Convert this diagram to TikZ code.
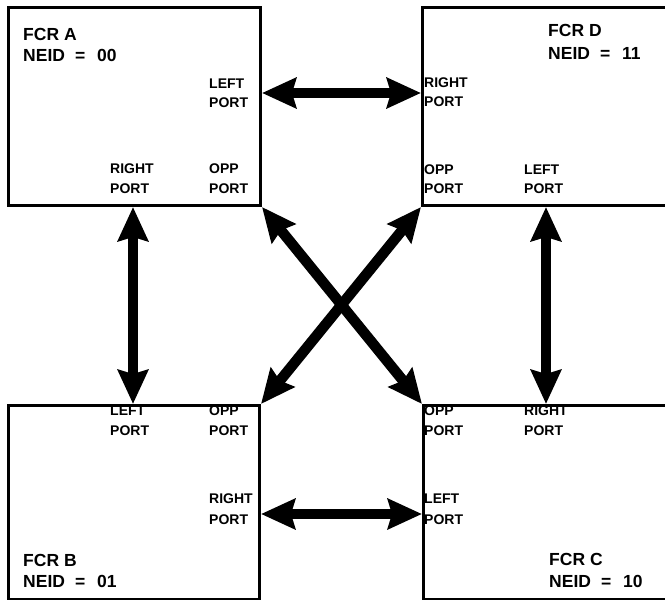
\documentclass[tikz,border=0pt]{standalone}
\usepackage{fontspec}
\setmainfont{Liberation Sans}
\usetikzlibrary{arrows.meta}
\begin{document}
\begin{tikzpicture}[x=1pt,y=-1pt,
  fcr/.style={draw, line width=3pt, rectangle, inner sep=0pt, anchor=north west},
  title/.style={font=\fontsize{17.5}{19}\selectfont\bfseries, inner sep=0pt, anchor=base west},
  port/.style={font=\fontsize{14}{16}\selectfont\bfseries, inner sep=0pt, anchor=base west},
  tip/.tip={Stealth[length=34pt,width=30pt,inset=4pt]},
  link/.style={line width=10.5pt, tip-tip}
]
\useasboundingbox (0,0) rectangle (665,600);
\fill[white] (0,0) rectangle (665,600);
\clip (0,0) rectangle (665,600);

% the four FCR boxes (D and C run past the right margin)
\node[fcr, minimum width=252pt, minimum height=198pt] (A) at (7,6) {};
\node[fcr, minimum width=260pt, minimum height=198pt] (D) at (421,6) {};
\node[fcr, minimum width=251pt, minimum height=194pt] (B) at (7,404) {};
\node[fcr, minimum width=260pt, minimum height=194pt] (C) at (422,404) {};

% names and node ids
\node[title] (aname) at (23,40) {FCR A};
\node[title] (aid)   at (23,61) {NEID\hspace{10pt}=\hspace{12pt}00};
\node[title] (dname) at (548,36) {FCR D};
\node[title] (did)   at (548,59) {NEID\hspace{10pt}=\hspace{12pt}11};
\node[title] (bname) at (23,566) {FCR B};
\node[title] (bid)   at (23,587) {NEID\hspace{10pt}=\hspace{12pt}01};
\node[title] (cname) at (549,565) {FCR C};
\node[title] (cid)   at (549,587) {NEID\hspace{10pt}=\hspace{12pt}10};

% port labels of FCR A
\node[port] (aleft1)  at (209,88)  {LEFT};
\node[port] (aleft2)  at (209,107) {PORT};
\node[port] (aright1) at (110,173) {RIGHT};
\node[port] (aright2) at (110,193) {PORT};
\node[port] (aopp1)   at (209,173) {OPP};
\node[port] (aopp2)   at (209,193) {PORT};

% port labels of FCR D
\node[port] (dright1) at (424,87)  {RIGHT};
\node[port] (dright2) at (424,106) {PORT};
\node[port] (dopp1)   at (424,174) {OPP};
\node[port] (dopp2)   at (424,193) {PORT};
\node[port] (dleft1)  at (524,174) {LEFT};
\node[port] (dleft2)  at (524,193) {PORT};

% port labels of FCR B
\node[port] (bleft1)  at (110,415) {LEFT};
\node[port] (bleft2)  at (110,435) {PORT};
\node[port] (bopp1)   at (209,415) {OPP};
\node[port] (bopp2)   at (209,435) {PORT};
\node[port] (bright1) at (209,503) {RIGHT};
\node[port] (bright2) at (209,524) {PORT};

% port labels of FCR C
\node[port] (copp1)   at (424,415) {OPP};
\node[port] (copp2)   at (424,435) {PORT};
\node[port] (cright1) at (524,415) {RIGHT};
\node[port] (cright2) at (524,435) {PORT};
\node[port] (cleft1)  at (424,503) {LEFT};
\node[port] (cleft2)  at (424,524) {PORT};

% port points on the box borders
\coordinate (pAL) at (A.east |- 0,93);
\coordinate (pDR) at (D.west |- 0,93);
\coordinate (pAR) at (A.south -| 133,0);
\coordinate (pBL) at (B.north -| 133,0);
\coordinate (pDL) at (D.south -| 546,0);
\coordinate (pCR) at (C.north -| 546,0);
\coordinate (pBR) at (B.east |- 0,514);
\coordinate (pCL) at (C.west |- 0,514);

% links between the ports
\draw[link] (pAL) -- (pDR);
\draw[link] (pBR) -- (pCL);
\draw[link] (pAR) -- (pBL);
\draw[link] (pDL) -- (pCR);
\draw[link] (A.south east) -- (C.north west);
\draw[link] (D.south west) -- (B.north east);
\end{tikzpicture}
\end{document}
